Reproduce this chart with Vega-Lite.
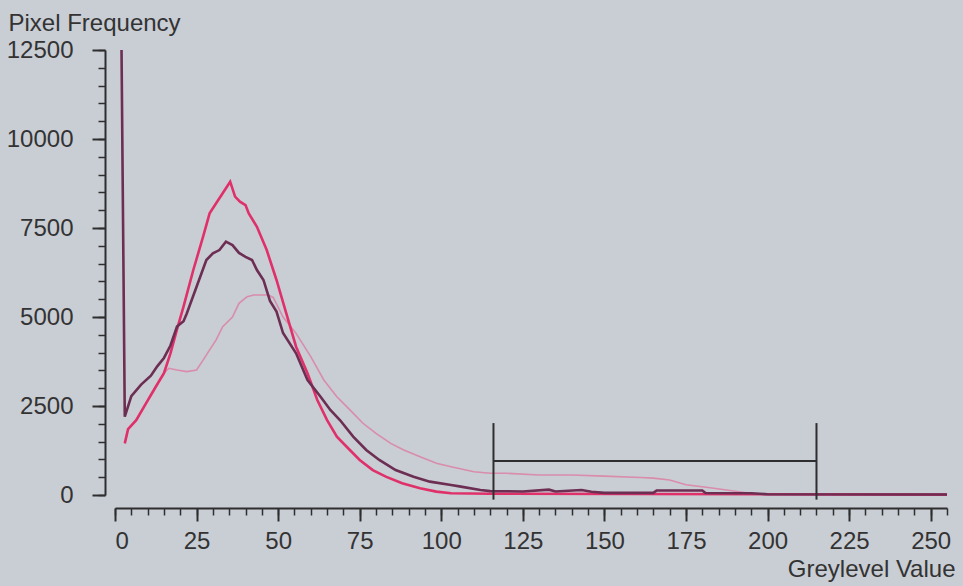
{
  "$schema": "https://vega.github.io/schema/vega-lite/v6.json",
  "width": 832,
  "height": 445,
  "autosize": "none",
  "padding": {"left": 115, "top": 50, "right": 16, "bottom": 91},
  "background": "#c9cdd4",
  "config": {
    "view": {"stroke": null},
    "font": "Liberation Sans",
    "axis": {
      "grid": false,
      "domainColor": "#2e2e2e",
      "tickColor": "#2e2e2e",
      "labelColor": "#333333",
      "titleColor": "#333333",
      "labelFont": "Liberation Sans",
      "titleFont": "Liberation Sans",
      "labelFontSize": 24,
      "titleFontSize": 24,
      "titleFontWeight": "normal",
      "domainWidth": 2,
      "tickWidth": 2
    }
  },
  "datasets": {
    "hist": [
      {"s": "D", "g": 2, "f": 12500}, {"s": "D", "g": 3, "f": 2200}, {"s": "D", "g": 5, "f": 2780}, {"s": "D", "g": 8, "f": 3100},
      {"s": "D", "g": 11, "f": 3350}, {"s": "D", "g": 13, "f": 3620}, {"s": "D", "g": 15, "f": 3850}, {"s": "D", "g": 17, "f": 4200},
      {"s": "D", "g": 19, "f": 4730}, {"s": "D", "g": 21, "f": 4880}, {"s": "D", "g": 22, "f": 5100}, {"s": "D", "g": 25, "f": 5850},
      {"s": "D", "g": 28, "f": 6600}, {"s": "D", "g": 30, "f": 6790}, {"s": "D", "g": 32, "f": 6880}, {"s": "D", "g": 34, "f": 7115},
      {"s": "D", "g": 36, "f": 7020}, {"s": "D", "g": 38, "f": 6800}, {"s": "D", "g": 40, "f": 6690}, {"s": "D", "g": 42, "f": 6600},
      {"s": "D", "g": 43.5, "f": 6320}, {"s": "D", "g": 45.5, "f": 6040}, {"s": "D", "g": 47.5, "f": 5450}, {"s": "D", "g": 49.5, "f": 5150},
      {"s": "D", "g": 51.5, "f": 4550}, {"s": "D", "g": 55.5, "f": 3980}, {"s": "D", "g": 59, "f": 3230}, {"s": "D", "g": 63, "f": 2760},
      {"s": "D", "g": 66, "f": 2390}, {"s": "D", "g": 69, "f": 2100}, {"s": "D", "g": 73, "f": 1640}, {"s": "D", "g": 77, "f": 1265},
      {"s": "D", "g": 81, "f": 985}, {"s": "D", "g": 86, "f": 700}, {"s": "D", "g": 91.5, "f": 515}, {"s": "D", "g": 96.5, "f": 375},
      {"s": "D", "g": 103, "f": 280}, {"s": "D", "g": 106, "f": 235}, {"s": "D", "g": 112, "f": 140}, {"s": "D", "g": 115, "f": 110},
      {"s": "D", "g": 125, "f": 100}, {"s": "D", "g": 133, "f": 150}, {"s": "D", "g": 135, "f": 100}, {"s": "D", "g": 143, "f": 140},
      {"s": "D", "g": 146, "f": 90}, {"s": "D", "g": 150, "f": 60}, {"s": "D", "g": 165, "f": 60}, {"s": "D", "g": 166, "f": 125},
      {"s": "D", "g": 180, "f": 125}, {"s": "D", "g": 181, "f": 55}, {"s": "D", "g": 195, "f": 50}, {"s": "D", "g": 200, "f": 20},
      {"s": "D", "g": 255, "f": 15},

      {"s": "P", "g": 3, "f": 1450}, {"s": "P", "g": 4, "f": 1850}, {"s": "P", "g": 6.5, "f": 2100}, {"s": "P", "g": 9.5, "f": 2575},
      {"s": "P", "g": 12.5, "f": 3040}, {"s": "P", "g": 15, "f": 3420}, {"s": "P", "g": 17, "f": 3980}, {"s": "P", "g": 19, "f": 4650},
      {"s": "P", "g": 21, "f": 5290}, {"s": "P", "g": 24, "f": 6320}, {"s": "P", "g": 27, "f": 7255}, {"s": "P", "g": 29, "f": 7910},
      {"s": "P", "g": 31, "f": 8195}, {"s": "P", "g": 33, "f": 8475}, {"s": "P", "g": 35.3, "f": 8800}, {"s": "P", "g": 36.8, "f": 8380},
      {"s": "P", "g": 38.3, "f": 8240}, {"s": "P", "g": 40, "f": 8145}, {"s": "P", "g": 41, "f": 7910}, {"s": "P", "g": 43.5, "f": 7535},
      {"s": "P", "g": 46.5, "f": 6880}, {"s": "P", "g": 49.5, "f": 6040}, {"s": "P", "g": 52.5, "f": 5100}, {"s": "P", "g": 55.5, "f": 4165},
      {"s": "P", "g": 59, "f": 3420}, {"s": "P", "g": 62, "f": 2670}, {"s": "P", "g": 65, "f": 2105}, {"s": "P", "g": 68, "f": 1640},
      {"s": "P", "g": 71, "f": 1355}, {"s": "P", "g": 75, "f": 985}, {"s": "P", "g": 79, "f": 700}, {"s": "P", "g": 83, "f": 515},
      {"s": "P", "g": 88, "f": 330}, {"s": "P", "g": 93.5, "f": 190}, {"s": "P", "g": 98.5, "f": 95}, {"s": "P", "g": 103, "f": 50},
      {"s": "P", "g": 115, "f": 35}, {"s": "P", "g": 200, "f": 20}, {"s": "P", "g": 255, "f": 10},

      {"s": "L", "g": 3, "f": 1450}, {"s": "L", "g": 4, "f": 1850}, {"s": "L", "g": 6.5, "f": 2100}, {"s": "L", "g": 9.5, "f": 2575},
      {"s": "L", "g": 12.5, "f": 3040}, {"s": "L", "g": 15, "f": 3420}, {"s": "L", "g": 16.5, "f": 3560}, {"s": "L", "g": 19, "f": 3510},
      {"s": "L", "g": 22, "f": 3465}, {"s": "L", "g": 25, "f": 3510}, {"s": "L", "g": 27, "f": 3790}, {"s": "L", "g": 29, "f": 4075},
      {"s": "L", "g": 31, "f": 4355}, {"s": "L", "g": 33, "f": 4730}, {"s": "L", "g": 36, "f": 5000}, {"s": "L", "g": 38, "f": 5385},
      {"s": "L", "g": 40.5, "f": 5570}, {"s": "L", "g": 42.5, "f": 5620}, {"s": "L", "g": 47, "f": 5620}, {"s": "L", "g": 48.5, "f": 5550},
      {"s": "L", "g": 51.5, "f": 5000}, {"s": "L", "g": 55.5, "f": 4540}, {"s": "L", "g": 60, "f": 3885}, {"s": "L", "g": 64, "f": 3230},
      {"s": "L", "g": 68, "f": 2760}, {"s": "L", "g": 72, "f": 2390}, {"s": "L", "g": 76, "f": 2015}, {"s": "L", "g": 80, "f": 1730},
      {"s": "L", "g": 84.5, "f": 1450}, {"s": "L", "g": 88.5, "f": 1265}, {"s": "L", "g": 93.5, "f": 1075}, {"s": "L", "g": 98.5, "f": 890},
      {"s": "L", "g": 103, "f": 795}, {"s": "L", "g": 110, "f": 655}, {"s": "L", "g": 115, "f": 610}, {"s": "L", "g": 120, "f": 610},
      {"s": "L", "g": 130, "f": 560}, {"s": "L", "g": 140, "f": 560}, {"s": "L", "g": 150, "f": 530}, {"s": "L", "g": 161, "f": 490},
      {"s": "L", "g": 165, "f": 475}, {"s": "L", "g": 170, "f": 420}, {"s": "L", "g": 175, "f": 290}, {"s": "L", "g": 183, "f": 195},
      {"s": "L", "g": 194, "f": 55}, {"s": "L", "g": 200, "f": 15}, {"s": "L", "g": 255, "f": 10}
    ],
    "bracket": [
      {"g": 116, "g2": 116, "f": -130, "f2": 2020},
      {"g": 215, "g2": 215, "f": -130, "f2": 2020},
      {"g": 116, "g2": 215, "f": 955, "f2": 955}
    ]
  },
  "layer": [
    {
      "data": {"name": "hist"},
      "mark": {"type": "point", "opacity": 0},
      "encoding": {
        "x": {"field": "g", "type": "quantitative", "scale": {"domain": [0, 255], "nice": false, "zero": false},
          "axis": {"orient": "bottom", "values": [0,5,10,15,20,25,30,35,40,45,50,55,60,65,70,75,80,85,90,95,100,105,110,115,120,125,130,135,140,145,150,155,160,165,170,175,180,185,190,195,200,205,210,215,220,225,230,235,240,245,250,255],
            "labels": false, "domain": false, "tickSize": 7, "tickWidth": 1.5, "offset": 13, "title": null}},
        "y": {"field": "f", "type": "quantitative", "scale": {"domain": [0, 12500], "nice": false},
          "axis": {"orient": "left", "values": [0,500,1000,1500,2000,2500,3000,3500,4000,4500,5000,5500,6000,6500,7000,7500,8000,8500,9000,9500,10000,10500,11000,11500,12000,12500],
            "labels": false, "domain": false, "tickSize": 7, "tickWidth": 1.5, "offset": 10, "title": null}}
      }
    },
    {
      "data": {"name": "hist"},
      "transform": [{"filter": "datum.s === 'L'"}],
      "mark": {"type": "line", "color": "#d98cab", "strokeWidth": 1.6},
      "encoding": {
        "x": {"field": "g", "type": "quantitative", "axis": null},
        "y": {"field": "f", "type": "quantitative", "axis": null}
      }
    },
    {
      "data": {"name": "hist"},
      "transform": [{"filter": "datum.s === 'P'"}],
      "mark": {"type": "line", "color": "#e0306a", "strokeWidth": 2.6},
      "encoding": {
        "x": {"field": "g", "type": "quantitative", "axis": null},
        "y": {"field": "f", "type": "quantitative", "axis": null}
      }
    },
    {
      "data": {"name": "hist"},
      "transform": [{"filter": "datum.s === 'D'"}],
      "mark": {"type": "line", "color": "#6c2e52", "strokeWidth": 2.6},
      "encoding": {
        "x": {"field": "g", "type": "quantitative",
          "axis": {"orient": "bottom", "values": [0,25,50,75,100,125,150,175,200,225,250], "tickSize": 13, "offset": 13, "labelPadding": 8,
            "title": "Greylevel Value", "titleAlign": "right", "titleBaseline": "alphabetic", "titleX": 840, "titleY": 68}},
        "y": {"field": "f", "type": "quantitative",
          "axis": {"orient": "left", "values": [0,2500,5000,7500,10000,12500], "format": "d", "tickSize": 13, "offset": 10, "labelPadding": 19,
            "title": "Pixel Frequency", "titleAngle": 0, "titleAlign": "left", "titleBaseline": "alphabetic", "titleX": -97, "titleY": -20}}
      }
    },
    {
      "data": {"name": "bracket"},
      "mark": {"type": "rule", "color": "#2e2e2e", "strokeWidth": 2},
      "encoding": {
        "x": {"field": "g", "type": "quantitative", "axis": null},
        "x2": {"field": "g2"},
        "y": {"field": "f", "type": "quantitative", "axis": null},
        "y2": {"field": "f2"}
      }
    }
  ],
  "resolve": {"axis": {"x": "independent", "y": "independent"}}
}
